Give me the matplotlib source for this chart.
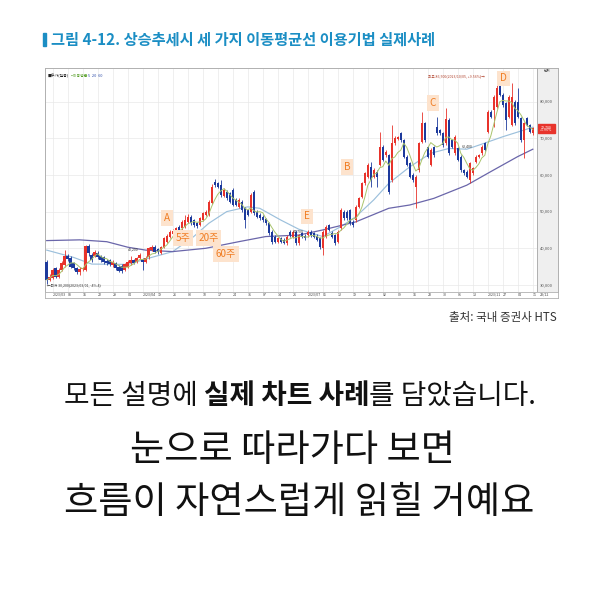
import numpy as np
import pandas as pd
import matplotlib
matplotlib.use("Agg")
import matplotlib.pyplot as plt
from matplotlib.patches import Rectangle

plt.rcParams['font.family'] = ['Noto Sans CJK KR', 'DejaVu Sans']

# daily candles, prices in thousand won
open_ = [36.3, 31.4, 31.8, 34.5, 32.3, 34.1, 35.4, 37.9, 37.3, 35.9,
         34.5, 33.6, 34.3, 34.1, 40.6, 38.2, 37.9, 38.8, 37.9, 37.6,
         36.6, 36.8, 35.4, 35.9, 35.0, 35.2, 34.1, 35.0, 35.9, 36.8,
         36.3, 37.3, 37.0, 36.2, 37.6, 39.5, 40.4, 39.8, 38.8, 40.3,
         41.8, 43.2, 43.8, 44.1, 45.9, 45.4, 45.9, 47.2, 48.6, 47.7,
         46.8, 46.3, 47.7, 49.1, 49.1, 52.3, 58.1, 57.7, 57.2, 54.3,
         55.4, 55.0, 55.9, 53.2, 51.3, 52.7, 50.9, 50.4, 50.0, 55.4,
         50.0, 49.1, 48.6, 47.9, 46.8, 44.5, 43.2, 41.8, 42.7, 42.3,
         41.4, 44.5, 43.2, 44.5, 41.4, 44.1, 43.4, 43.6, 44.5, 44.1,
         43.4, 42.7, 40.0, 43.2, 46.3, 44.2, 43.6, 41.8, 45.4, 50.0,
         50.0, 50.4, 47.2, 47.7, 51.3, 54.1, 57.7, 59.5, 62.2, 59.5,
         60.9, 62.7, 67.7, 65.4, 65.4, 58.6, 68.6, 69.8, 71.3, 69.5,
         65.0, 63.2, 60.0, 56.7, 61.3, 69.0, 74.1, 67.6, 62.7, 67.6,
         73.1, 72.2, 71.3, 68.6, 75.0, 69.5, 65.9, 67.2, 64.9, 61.3,
         60.9, 58.6, 60.4, 63.6, 64.9, 65.9, 68.6, 71.8, 77.2, 77.7,
         78.6, 85.0, 81.8, 79.5, 75.9, 73.6, 80.0, 80.0, 75.4, 69.5,
         75.4, 73.6, 71.3]
close = [31.4, 32.3, 34.1, 32.3, 34.1, 35.9, 37.9, 37.0, 35.0, 34.5,
         33.6, 34.3, 34.6, 40.6, 38.6, 36.8, 39.1, 37.6, 36.8, 36.3,
         36.0, 35.6, 36.3, 34.5, 33.9, 33.9, 35.7, 36.3, 36.8, 36.1,
         37.3, 38.2, 36.3, 37.4, 40.0, 40.3, 39.1, 38.9, 40.3, 42.7,
         43.4, 44.5, 44.7, 45.4, 44.5, 47.2, 47.7, 48.6, 46.8, 46.3,
         46.0, 48.2, 49.5, 50.0, 52.7, 56.8, 57.2, 56.8, 54.5, 55.9,
         53.6, 52.7, 51.8, 51.8, 53.2, 50.4, 47.7, 49.1, 54.5, 49.5,
         48.6, 48.2, 47.7, 46.8, 44.1, 41.8, 41.8, 42.7, 41.8, 41.5,
         43.2, 43.6, 44.5, 41.4, 43.6, 43.2, 42.7, 44.5, 43.6, 43.2,
         42.3, 40.4, 44.5, 45.9, 45.0, 43.2, 41.4, 44.5, 50.4, 48.2,
         48.2, 46.8, 46.3, 51.3, 53.6, 57.7, 60.4, 62.7, 58.6, 61.3,
         59.5, 67.7, 64.1, 66.3, 55.4, 68.6, 70.0, 70.2, 69.5, 65.0,
         62.7, 59.5, 58.6, 59.5, 68.6, 74.1, 69.5, 65.0, 66.8, 65.4,
         71.3, 71.3, 68.1, 75.1, 65.9, 67.7, 70.4, 64.1, 61.3, 60.4,
         59.5, 63.2, 61.8, 65.0, 65.4, 67.7, 66.8, 77.2, 75.9, 81.3,
         83.6, 81.8, 79.0, 75.0, 81.3, 81.3, 74.1, 75.9, 69.5, 74.1,
         73.6, 71.8, 72.7]
high = [36.8, 33.0, 34.6, 35.0, 34.5, 36.5, 39.6, 38.5, 37.8, 36.2,
        35.0, 34.8, 35.0, 41.0, 41.2, 38.6, 39.6, 39.2, 38.2, 38.0,
        37.0, 37.2, 36.8, 36.2, 35.4, 35.6, 36.1, 36.7, 37.8, 37.2,
        37.7, 38.8, 37.4, 37.9, 40.4, 40.8, 40.8, 40.2, 40.7, 43.1,
        43.9, 45.0, 45.3, 45.9, 46.3, 47.7, 49.0, 49.4, 49.0, 48.1,
        47.2, 48.6, 50.0, 50.5, 53.2, 57.5, 58.8, 58.2, 58.5, 56.4,
        55.9, 55.4, 56.4, 53.6, 53.6, 53.1, 51.3, 50.8, 55.0, 55.9,
        50.4, 49.5, 49.0, 48.3, 47.2, 44.9, 43.6, 43.1, 43.1, 42.7,
        43.6, 44.9, 44.9, 44.9, 44.0, 44.5, 43.8, 44.9, 44.9, 44.5,
        43.8, 43.1, 44.9, 46.3, 46.7, 44.6, 44.0, 44.9, 50.9, 50.4,
        50.4, 50.8, 47.6, 51.7, 54.0, 58.1, 60.9, 63.2, 63.5, 61.8,
        61.3, 71.8, 68.1, 66.8, 65.8, 73.6, 70.5, 70.6, 71.8, 69.9,
        65.4, 63.6, 60.4, 59.9, 69.0, 77.2, 74.5, 68.0, 67.2, 68.0,
        75.9, 72.6, 71.7, 78.2, 75.4, 69.9, 70.8, 67.6, 65.3, 61.7,
        61.3, 63.6, 62.2, 65.4, 65.8, 68.1, 69.0, 77.6, 77.6, 81.7,
        85.9, 86.5, 82.2, 79.9, 81.7, 85.0, 80.4, 83.6, 75.8, 74.5,
        75.8, 74.0, 73.1]
low = [30.2, 31.0, 31.5, 31.9, 31.8, 33.8, 35.0, 36.6, 34.5, 34.0,
       33.0, 32.8, 33.9, 33.8, 38.0, 36.4, 37.5, 37.2, 36.4, 35.8,
       35.5, 35.2, 35.0, 34.0, 33.5, 33.4, 33.8, 34.6, 35.5, 35.8,
       36.0, 37.0, 34.1, 35.9, 37.2, 39.2, 38.7, 38.5, 38.4, 40.0,
       41.5, 42.9, 43.5, 43.8, 44.1, 45.0, 45.6, 46.9, 46.4, 45.9,
       45.6, 46.0, 47.4, 48.8, 48.8, 52.0, 56.8, 56.4, 54.1, 53.9,
       53.2, 52.3, 51.4, 51.4, 50.9, 50.0, 45.5, 48.7, 49.6, 49.1,
       48.2, 47.8, 47.3, 46.4, 43.7, 41.2, 41.4, 41.4, 41.4, 41.1,
       41.0, 43.2, 42.8, 41.0, 41.0, 42.8, 42.3, 43.2, 43.2, 42.8,
       41.9, 39.9, 38.2, 42.8, 44.6, 42.8, 41.0, 41.4, 45.0, 47.8,
       47.8, 46.4, 45.9, 47.3, 50.9, 53.7, 57.3, 59.1, 56.7, 59.1,
       56.7, 62.3, 63.7, 65.0, 54.8, 58.2, 68.2, 69.4, 69.1, 64.6,
       62.3, 59.1, 58.2, 51.0, 60.9, 68.6, 69.1, 64.6, 62.3, 65.0,
       70.9, 70.9, 67.7, 68.2, 65.5, 67.3, 65.5, 63.7, 60.9, 60.0,
       59.1, 57.8, 60.0, 63.2, 64.5, 65.5, 66.4, 71.4, 75.5, 73.0,
       78.2, 81.4, 78.6, 72.2, 75.5, 73.2, 73.7, 75.5, 69.1, 64.5,
       73.2, 71.4, 70.9]

# moving averages (candle index, price)
ma20_idx = [0, 9, 15, 27, 34, 42, 49, 54, 60, 67, 71, 78, 84, 92, 98, 103,
            109, 114, 121, 128, 134, 140, 144, 152, 159, 162]
ma20 = [39.5, 37.5, 35.7, 35.6, 37.3, 39.1, 43.2, 46.8, 50.0, 51.3, 50.9,
        47.7, 45.2, 43.2, 45.9, 48.6, 53.2, 57.7, 62.2, 65.9, 67.2, 67.0,
        68.1, 70.4, 72.2, 73.0]
ma60_idx = [0, 11, 20, 27, 33, 42, 53, 64, 73, 84, 92, 103, 114, 121, 129,
            140, 148, 157, 162]
ma60 = [42.1, 42.3, 41.8, 40.3, 39.5, 39.1, 40.0, 41.8, 43.2, 43.6, 45.0,
        47.2, 50.9, 51.8, 53.6, 57.2, 60.9, 65.0, 67.0]

price_ticks = [30, 40, 50, 60, 70, 80]
date_labels = ["2023/03", "08", "15", "22", "29", "04", "2023/04", "19", "26",
               "03", "10", "17", "24", "31", "07", "14", "21", "2023/07", "05",
               "12", "19", "26", "02", "09", "16", "23", "30", "06", "13",
               "2023/11", "27", "04", "11"]

title = "그림 4-12. 상승추세시 세 가지 이동평균선 이용기법 실제사례"

W, H = 600, 600
def fx(x):
    return x / W
def fy(y):
    return 1 - y / H

red = '#e8332b'
blue = '#1d3a9c'
orange = '#f07c22'
teal = '#1b8ec4'

fig = plt.figure(figsize=(6, 6), dpi=100)
fig.patch.set_facecolor('white')

# title
fig.patches.append(Rectangle((fx(43), fy(46)), 3 / W, 13 / H,
                             transform=fig.transFigure, color=teal))
fig.text(fx(51), fy(40), title, fontsize=11, fontweight='bold',
         color=teal, va='center')

# main candle chart
ax = fig.add_axes([fx(45), fy(292), (537 - 45) / W, (292 - 68) / H])
n = len(close)
idx = np.arange(n)
o = np.array(open_)
c = np.array(close)
cols = np.where(c >= o, red, blue)
ax.vlines(idx, low, high, colors=cols, lw=0.6, zorder=3)
ax.bar(idx, np.maximum(np.abs(c - o), 0.25), bottom=np.minimum(o, c),
       width=0.82, color=cols, linewidth=0, zorder=4)

ma5 = pd.Series(close).rolling(5, min_periods=1).mean()
ax.plot(idx, ma5, color='#a9c46c', lw=0.7, zorder=5)
ax.plot(ma20_idx, ma20, color='#9cc0dc', lw=0.85, zorder=2)
ax.plot(ma60_idx, ma60, color='#6a66aa', lw=0.9, zorder=2)

ax.set_xlim(-0.57, 163.4)
ax.set_ylim(28.09, 89.13)
grid_idx = np.arange(2, n, 5)
ax.set_xticks(grid_idx)
ax.set_yticks(price_ticks)
ax.grid(color='#e9e9e9', lw=0.5)
ax.set_axisbelow(True)
ax.tick_params(length=0, labelbottom=False, labelleft=False)
for s in ax.spines.values():
    s.set_color('#b0b0b0')
    s.set_linewidth(0.7)

# annotation labels
labels = [("A", 40.0, 48.3), ("5주", 45.5, 42.8), ("20주", 53.9, 42.8),
          ("60주", 59.7, 38.4), ("E", 86.7, 48.7), ("B", 100.2, 62.1),
          ("C", 128.7, 79.6), ("D", 152.2, 86.3)]
for t, xi, yi in labels:
    ax.text(xi, yi, t, fontsize=7.2, color=orange, ha='center', va='center',
            zorder=8, bbox=dict(boxstyle='square,pad=0.28', fc='#fde3cd', ec='none'))

# tiny chart texts
ax.text(0.005, 0.965, "■주가(일봉)", transform=ax.transAxes, fontsize=2.8,
        color='#222', va='center')
ax.text(0.05, 0.965, "▪이동평균", transform=ax.transAxes, fontsize=2.8,
        color='#5aa02c', va='center')
ax.text(0.088, 0.965, "5  20  60", transform=ax.transAxes, fontsize=2.8,
        color='#2a4aa8', va='center')
ax.text(0.005, 0.03, "←최저 30,200(2023/03/01, -4% 4)", transform=ax.transAxes,
        fontsize=2.6, color='#333', va='center')
ax.text(146, 86.9, "최고 86,500(2023/10/05, +9.56%)→", fontsize=2.6,
        color='#b0402a', ha='right', va='center')
for t, xi, yi in [("40,200", 29, 39.7), ("44,700", 84, 44.6), ("62,400", 140, 67.9)]:
    ax.text(xi, yi, t, fontsize=2.6, color='#333', ha='center', va='center', zorder=6)

# price panel
axp = fig.add_axes([fx(537), fy(292), 21 / W, (292 - 68) / H])
axp.set_facecolor('#efefef')
axp.set_xlim(0, 1)
axp.set_ylim(28.09, 89.13)
axp.set_xticks([])
axp.set_yticks([])
for s in axp.spines.values():
    s.set_color('#b0b0b0')
    s.set_linewidth(0.7)
for v in price_ticks:
    axp.text(0.15, v, f"{v * 1000:,}", fontsize=3, color='#555', va='center')
axp.add_patch(Rectangle((0.05, close[-1] - 1.3), 0.8, 2.6, color=red))
axp.text(0.45, close[-1] + 0.4, f"{close[-1] * 1000:,.0f}", fontsize=2.6,
         color='white', ha='center', va='center')
axp.text(0.45, close[-1] - 0.6, "+1.96%", fontsize=2.6, color='white',
         ha='center', va='center')
axp.text(0.5, 88.3, "단위", fontsize=2.6, color='#444', ha='center', va='center')

# date strip
axd = fig.add_axes([fx(45), fy(298), (558 - 45) / W, 6 / H])
axd.set_xlim(-0.57, -0.57 + 513 / 3)
axd.set_ylim(0, 1)
axd.set_xticks([])
axd.set_yticks([])
for s in axd.spines.values():
    s.set_color('#b0b0b0')
    s.set_linewidth(0.6)
for gi, lab in zip(grid_idx, date_labels):
    axd.text(gi, 0.5, lab, fontsize=2.6, color='#444', ha='left', va='center')
axd.text(166, 0.5, "23/12", fontsize=2.6, color='#444', ha='center', va='center')

# source
fig.text(fx(557), fy(318), "출처: 국내 증권사 HTS", ha='right', va='center',
         fontsize=8.3, color='#333')

# body text
parts = [("모든 설명에 ", "normal"), ("실제 차트 사례", "bold"), ("를 담았습니다.", "normal")]
objs = [fig.text(0, fy(396), s, fontsize=20, fontweight=w, va='center', color='#111')
        for s, w in parts]
fig.canvas.draw()
r = fig.canvas.get_renderer()
ws = [t.get_window_extent(r).width for t in objs]
x = 300 - sum(ws) / 2
for t, w in zip(objs, ws):
    t.set_x(x / W)
    x += w

fig.text(fx(292), fy(450), "눈으로 따라가다 보면", ha='center', va='center',
         fontsize=26.8, fontweight='medium', color='#111')
fig.text(fx(299), fy(502), "흐름이 자연스럽게 읽힐 거예요", ha='center', va='center',
         fontsize=26.8, fontweight='medium', color='#111')

fig.savefig('out.png', dpi=100)
